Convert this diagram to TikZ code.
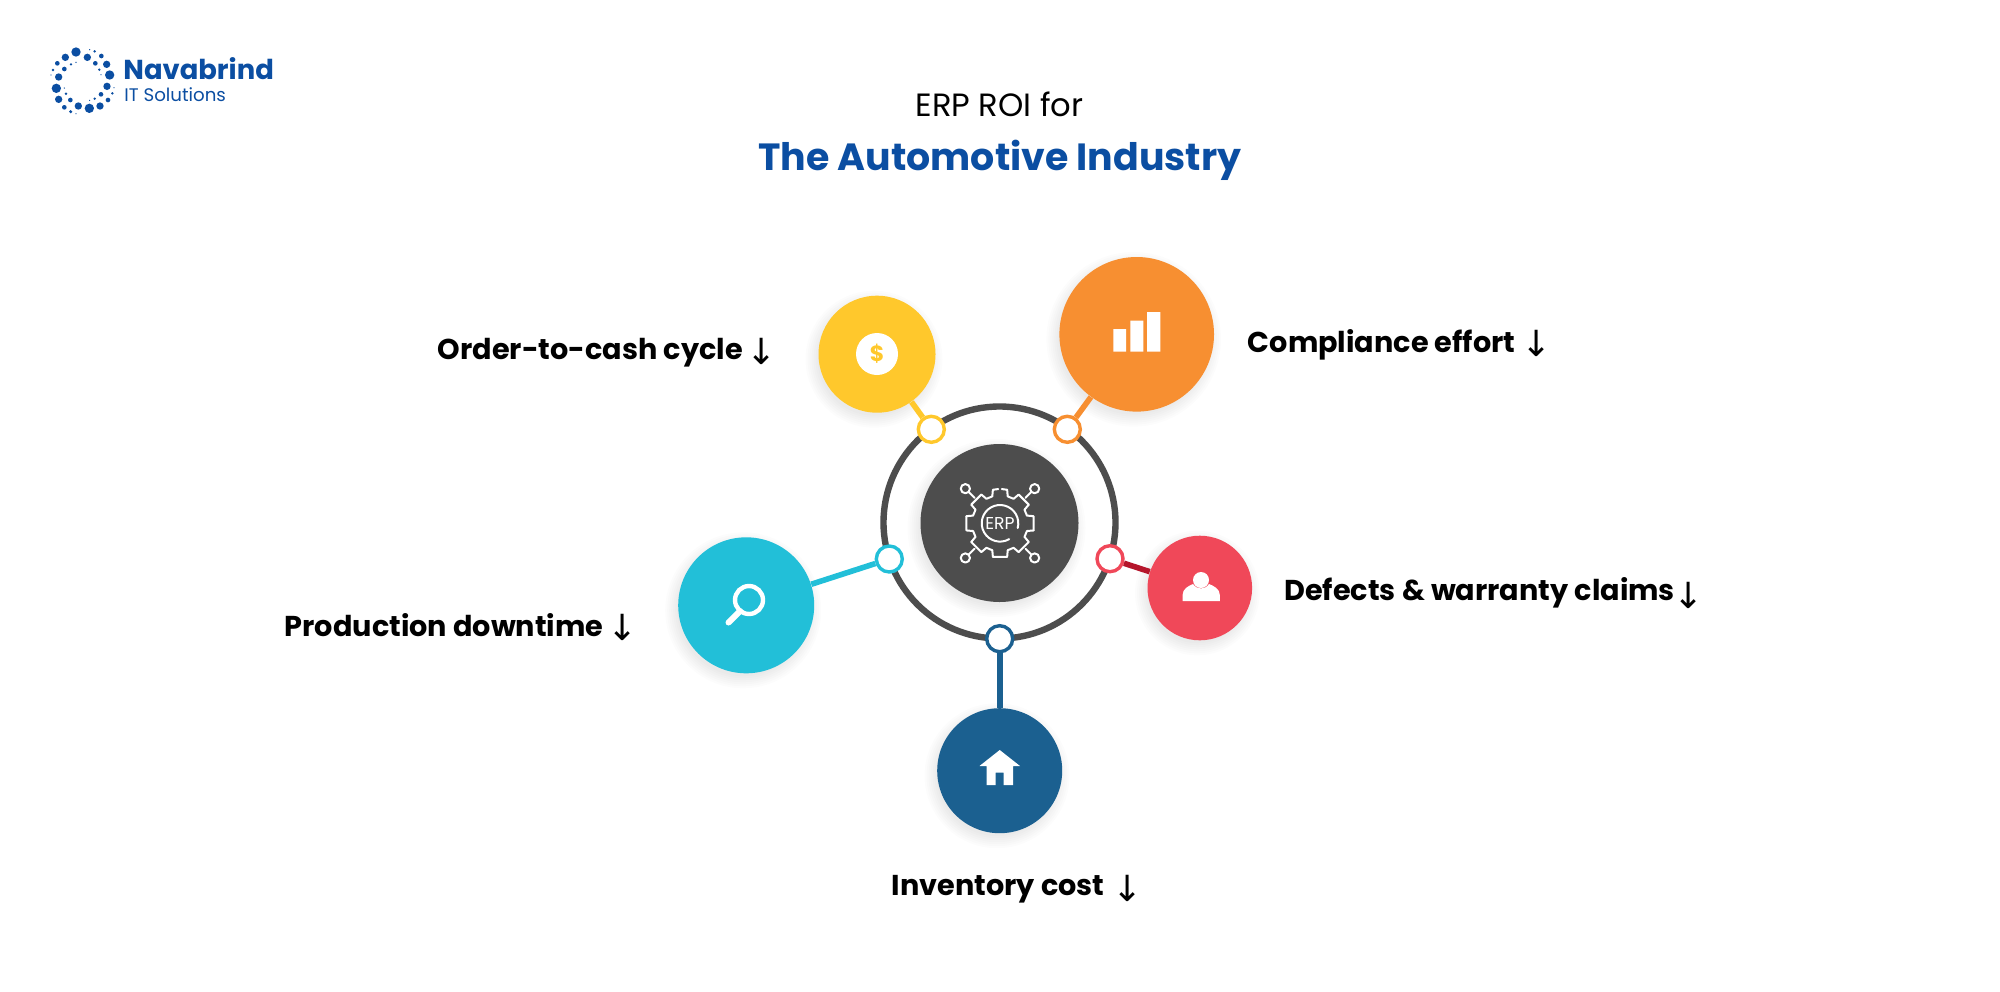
\documentclass[tikz,border=0pt]{standalone}
\usepackage{fontspec}
\setmainfont{Poppins}
\newfontfamily\arrowfont{DejaVu Sans}
\definecolor{navy}{HTML}{0B4EA2}
\definecolor{ringgrey}{HTML}{4D4D4D}
\definecolor{cyellow}{HTML}{FFC82C}
\definecolor{corange}{HTML}{F78F31}
\definecolor{ccyan}{HTML}{22BFD8}
\definecolor{cred}{HTML}{F04859}
\definecolor{cdred}{HTML}{B5152B}
\definecolor{cblue}{HTML}{1B6090}
\newcommand{\softshadow}[3]{%
  \foreach \s in {-2,0,...,10}
    \fill[black,opacity=0.012] ({#1-3},{#2+5}) circle[radius={#3+\s}];}
\tikzset{
  x=0.5pt,y=-0.5pt,
  bigdisc/.style={circle,inner sep=0pt,minimum size=#1*1pt},
  hub/.style={circle,inner sep=0pt,minimum size=13pt,fill=white,draw=#1,line width=1.7pt},
  link/.style={line width=2.8pt},
  lab/.style={anchor=base west,inner sep=0pt,font=\fontsize{14.35}{14.35}\selectfont\bfseries,text=black},
  downarrow/.style={inner sep=0pt,font=\arrowfont\fontsize{18}{18}\selectfont,text=black},
  logodot/.style={fill=navy,draw=none},
  iconline/.style={draw=white,line width=1pt,line cap=round,line join=round},
}
\begin{document}
\begin{tikzpicture}
\useasboundingbox (0,0) rectangle (2000,991);
\fill[white] (0,0) rectangle (2000,991);
% logo
\foreach \a/\b/\r in {228/96/14,196/112/11,172/130/7,159/150/4,153/165/2,176/171/11,169/205/14,176/238/11,193/262/7,212/275/5,228/281/2,235/258/11,268/265/14,300/258/11,324/240/7,337/220/4,342/203/2,321/199/11,329/165/14,320/133/11,304/108/7,284/94/4,269/89/2,262/112/11,286/130/7,298/149/4,303/164/2,193/147/7,213/133/4,228/127/2,198/221/4,193/204/2,211/240/7,303/223/7,284/236/4,269/241/2}
  \fill[logodot] ({\a/3},{\b/3+20}) circle[radius=\r/6*1pt];
\node[anchor=base west,inner sep=0pt,text=navy,font=\fontsize{13.7}{13.7}\selectfont\bfseries] (brand) at (123,79) {Navabrind};
\node[anchor=base west,inner sep=0pt,text=navy,font=\fontsize{9.1}{9.1}\selectfont] (brandsub) at (124,101) {IT Solutions};
% title
\node[anchor=base,inner sep=0pt,font=\fontsize{16.1}{16.1}\selectfont,text=black] (t1) at (999.5,116) {ERP ROI for};
\node[anchor=base,inner sep=0pt,font=\fontsize{18.95}{18.95}\selectfont\bfseries,text=navy] (t2) at (1000,170) {The Automotive Industry};
% shadows
\softshadow{999.5}{523}{79}
\softshadow{877}{354.2}{58.5}
\softshadow{1136.7}{334.3}{77.3}
\softshadow{746.2}{605.3}{68}
\softshadow{1200.3}{588}{52.3}
\softshadow{1000}{770.7}{62.5}
% nodes
\node[bigdisc=79,fill=ringgrey] (core) at (999.5,523) {};
\node[circle,inner sep=0pt,minimum size=116pt,draw=ringgrey,line width=3.2pt] (ring) at (999.5,522.5) {};
\node[bigdisc=58.5,fill=cyellow] (y) at (877,354.2) {};
\node[bigdisc=77.3,fill=corange] (o) at (1136.7,334.3) {};
\node[bigdisc=68,fill=ccyan] (c) at (746.2,605.3) {};
\node[bigdisc=52.3,fill=cred] (r) at (1199.8,588) {};
\node[bigdisc=62.5,fill=cblue] (b) at (999.7,770.7) {};
\node[hub=cyellow] (hy) at (931.3,429.3) {};
\node[hub=corange] (ho) at (1067.3,429.3) {};
\node[hub=ccyan] (hc) at (889.3,559) {};
\node[hub=cred] (hr) at (1110,558.7) {};
\node[hub=cblue] (hb) at (999.7,638.7) {};
\draw[link,draw=cyellow] (y) -- (hy);
\draw[link,draw=corange] (o) -- (ho);
\draw[link,draw=ccyan] (c) -- (hc);
\draw[link,draw=cdred] (r) -- (hr);
\draw[link,draw=cblue] (b) -- (hb);
% ERP gear icon
\begin{scope}[shift={(1000,523.3)}]
  \def\Ro{34.3}\def\Ri{28}
  \draw[iconline] (-87:\Ro) -- (-78:\Ro);
  \foreach \k in {0,...,6}{
    \pgfmathsetmacro{\ta}{-90+45*\k}
    \draw[iconline] ({\ta+12}:\Ro) -- ({\ta+16}:\Ri) -- ({\ta+29}:\Ri) -- ({\ta+33}:\Ro) -- ({\ta+57}:\Ro);
  }
  \draw[iconline] (237:\Ro) -- (241:\Ri) -- (254:\Ri) -- (258:\Ro) -- (267:\Ro);
  \draw[iconline] (60:18.3) arc[start angle=60,end angle=375,radius=18.3];
  \foreach \t in {45,135,225,315}{
    \draw[iconline] (\t:36) -- (\t:44.5);
    \draw[iconline] (\t:49) circle[radius=2.3pt];
  }
  \node[inner sep=0pt,text=white,font=\fontsize{8.6}{8.6}\selectfont] (erp) at (0,0) {ERP};
\end{scope}
% icons
\fill[white] (877,354) circle[radius=10.5pt];
\node[text=cyellow,font=\fontsize{11}{11}\selectfont\bfseries,inner sep=0pt] (dollar) at (877,354) {\$};
\fill[white] (1113.3,329) rectangle (1126,351.7) (1130.3,320.7) rectangle (1143.3,351.7) (1147,312) rectangle (1160.3,351.7);
\draw[white,line width=2.2pt] (749,600) circle[radius=7pt];
\draw[white,line width=3pt,line cap=round] (740,611) -- (728.5,622.5);
\fill[white] (1182.6,601) -- (1182.6,595) .. controls (1182.6,589) and (1188,586) .. (1193,584) .. controls (1197,590) and (1205,590) .. (1209,584) .. controls (1214,586) and (1219.8,589) .. (1219.8,595) -- (1219.8,601) -- cycle;
\fill[white] (1201,580) circle[radius=4pt];
\fill[white] (979.5,766) -- (999.7,750) -- (1020,766) -- (1013,766) -- (1013,785) -- (1003.6,785) -- (1003.6,772.7) -- (995.7,772.7) -- (995.7,785) -- (986.6,785) -- (986.6,766) -- cycle;
% labels
\node[lab] (l1) at (437.5,359.5) {Order-to-cash cycle};
\node[downarrow] (a1) at (761.5,351) {↓};
\node[lab] (l2) at (1247.5,352) {Compliance effort};
\node[downarrow] (a2) at (1536.7,343) {↓};
\node[lab] (l3) at (1284,600.5) {Defects \& warranty claims};
\node[downarrow] (a3) at (1689,595) {↓};
\node[lab] (l4) at (284.4,636.5) {Production downtime};
\node[downarrow] (a4) at (622.5,627) {↓};
\node[lab] (l5) at (891.5,895) {Inventory cost};
\node[downarrow] (a5) at (1127.6,888) {↓};
\end{tikzpicture}
\end{document}
